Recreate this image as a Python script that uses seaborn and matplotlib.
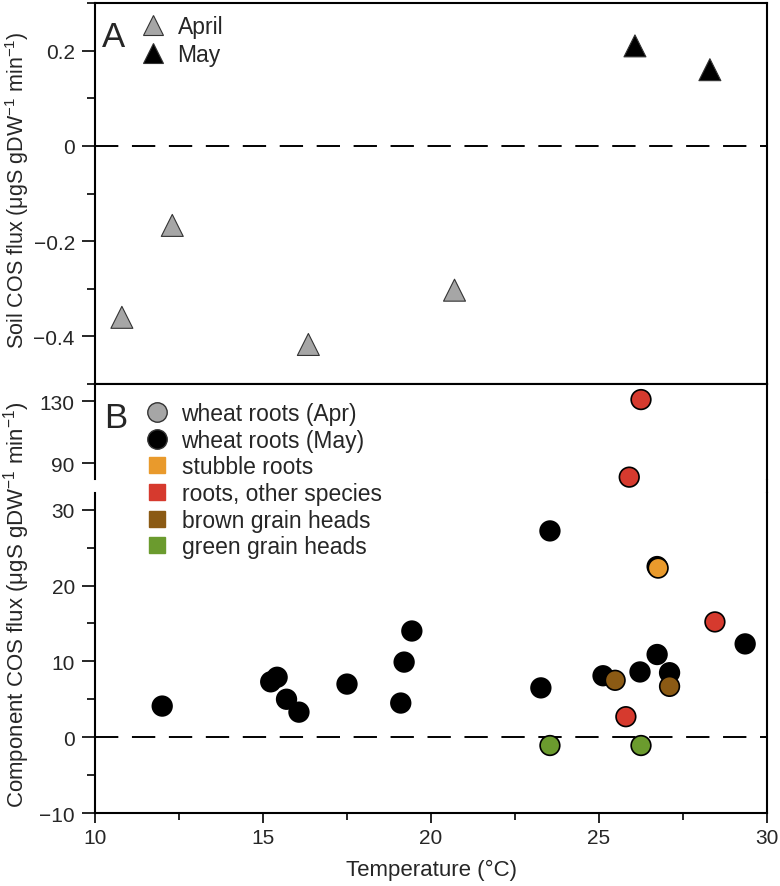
import numpy as np
import pandas as pd
import matplotlib
matplotlib.use("Agg")
import matplotlib.pyplot as plt
import seaborn as sns
from matplotlib.lines import Line2D
from matplotlib.ticker import MultipleLocator

# panel A: soil COS flux
soil_month = ["April", "April", "April", "April", "May", "May"]
soil_temp = [10.8, 12.3, 16.35, 20.7, 26.07, 28.3]
soil_flux = [-0.36, -0.167, -0.417, -0.303, 0.21, 0.16]

# panel B: component COS flux
may_temp = [12.0, 15.23, 15.42, 15.7, 16.07, 17.5, 19.1, 19.2, 19.43, 23.27,
            23.54, 25.12, 26.22, 26.73, 27.1, 29.35, 26.73]
may_flux = [4.1, 7.3, 7.9, 5.0, 3.3, 7.0, 4.5, 9.9, 14.0, 6.5,
            27.2, 8.1, 8.6, 10.9, 8.5, 12.3, 22.5]
stubble_temp = [26.76]
stubble_flux = [22.3]
other_temp = [25.8, 28.45, 26.25, 25.9]
other_flux = [2.7, 15.2, 131.0, 81.2]
brown_temp = [25.48, 27.1]
brown_flux = [7.5, 6.7]
green_temp = [23.54, 26.25]
green_flux = [-1.1, -1.1]

groups = ["wheat roots (Apr)", "wheat roots (May)", "stubble roots",
          "roots, other species", "brown grain heads", "green grain heads"]
colors = ["#a6a6a6", "#000000", "#e99a2c", "#d63a2e", "#8b5a14", "#6b9b2e"]

soil = pd.DataFrame({"month": soil_month, "temp": soil_temp, "flux": soil_flux})
comp = pd.concat([
    pd.DataFrame({"group": groups[1], "temp": may_temp, "flux": may_flux}),
    pd.DataFrame({"group": groups[2], "temp": stubble_temp, "flux": stubble_flux}),
    pd.DataFrame({"group": groups[3], "temp": other_temp, "flux": other_flux}),
    pd.DataFrame({"group": groups[4], "temp": brown_temp, "flux": brown_flux}),
    pd.DataFrame({"group": groups[5], "temp": green_temp, "flux": green_flux}),
], ignore_index=True)
pal = dict(zip(groups, colors))

sns.set_style("white")
plt.rcParams['font.family'] = ['Liberation Sans', 'DejaVu Sans']
plt.rcParams['mathtext.fontset'] = 'custom'
plt.rcParams['mathtext.rm'] = 'Liberation Sans'
plt.rcParams['mathtext.default'] = 'regular'

W, H = 780, 887
fig = plt.figure(figsize=(7.8, 8.87), dpi=100)
L, R = 95 / W, 767 / W


def box(top, bottom):
    return [L, 1 - bottom / H, R - L, (bottom - top) / H]


axA = fig.add_axes(box(4, 385))
axBu = fig.add_axes(box(385, 480))
axBl = fig.add_axes(box(494, 814))

for ax in (axA, axBu, axBl):
    for s in ax.spines.values():
        s.set_linewidth(1.5)
        s.set_color("black")
    ax.set_xlim(10, 30)
    ax.tick_params(axis="y", which="major", direction="out", length=9.5, width=1.4,
                   labelsize=15, pad=5, left=True)
    ax.tick_params(axis="y", which="minor", direction="out", length=5.5, width=1.4, left=True)
    ax.axhline(0, color="black", lw=1.4, ls=(0, (12, 7)), zorder=1)

# panel A
sns.scatterplot(data=soil, x="temp", y="flux", hue="month",
                palette={"April": "#a6a6a6", "May": "black"}, marker="^",
                s=250, edgecolor="#333333", linewidth=0.8, legend=False,
                ax=axA, zorder=3, clip_on=False)
axA.set_ylim(-0.5, 0.3)
axA.yaxis.set_minor_locator(MultipleLocator(0.1))
axA.set_yticks([-0.4, -0.2, 0, 0.2])
axA.set_yticklabels(["\u22120.4", "\u22120.2", "0", "0.2"])
axA.set_xticks([])
axA.set_xlabel("")
axA.set_ylabel("")
fig.text(17 / W, 1 - 190 / H, "Soil COS flux (\u03bcgS gDW$^{-1}$ min$^{-1}$)",
         rotation=90, fontsize=15.5, ha="center", va="center")
axA.text(0.01, 0.955, "A", transform=axA.transAxes, fontsize=25, va="top", ha="left")


def add_legend(handles, x_px, top_px, spacing):
    leg = fig.legend(handles=handles, loc="upper left",
                     bbox_to_anchor=(x_px / W, 1 - top_px / H),
                     frameon=False, fontsize=16.5, handlelength=1.0,
                     handletextpad=0.55, labelspacing=spacing,
                     borderpad=0, borderaxespad=0)
    return leg


legA = [Line2D([], [], ls="", marker="^", markersize=15, markerfacecolor=c,
               markeredgecolor="#333333", markeredgewidth=0.8, label=lab)
        for lab, c in [("April", "#a6a6a6"), ("May", "black")]]
add_legend(legA, 142, 16, 0.2)

# panel B
upper = comp[comp["flux"] >= 60]
lower = comp[comp["flux"] < 60]
for ax, d in ((axBu, upper), (axBl, lower)):
    sns.scatterplot(data=d, x="temp", y="flux", hue="group", palette=pal,
                    s=200, edgecolor="black", linewidth=1.2, legend=False,
                    ax=ax, zorder=3, clip_on=False)
    ax.set_xlabel("")
    ax.set_ylabel("")

axBu.set_ylim(80, 141)
axBu.set_yticks([90, 130])
axBu.set_xticks([])
axBu.spines["bottom"].set_visible(False)

axBl.set_ylim(-10, 32.2)
axBl.set_yticks([-10, 0, 10, 20, 30])
axBl.set_yticklabels(["\u221210", "0", "10", "20", "30"])
axBl.yaxis.set_minor_locator(MultipleLocator(5))
axBl.spines["top"].set_visible(False)
axBl.set_xticks([10, 15, 20, 25, 30])
axBl.xaxis.set_minor_locator(MultipleLocator(2.5))
axBl.tick_params(axis="x", which="major", direction="out", length=7, width=1.4,
                 labelsize=15, pad=4, bottom=True)
axBl.tick_params(axis="x", which="minor", direction="out", length=5, width=1.4, bottom=True)
axBl.set_xlabel("Temperature (\u00b0C)", fontsize=16, labelpad=8)

# right spine through the axis break
fig.add_artist(Line2D([R, R], [1 - 480 / H, 1 - 494 / H], color="black", lw=1.5))

axBu.text(0.013, 0.82, "B", transform=axBu.transAxes, fontsize=25, va="top", ha="left")
fig.text(17 / W, 1 - 605 / H, "Component COS flux (\u03bcgS gDW$^{-1}$ min$^{-1}$)",
         rotation=90, fontsize=16, ha="center", va="center")

legB = []
for lab, c in zip(groups, colors):
    if lab.startswith("wheat"):
        legB.append(Line2D([], [], ls="", marker="o", markersize=14,
                           markerfacecolor=c, markeredgecolor="#333333",
                           markeredgewidth=1.0, label=lab))
    else:
        legB.append(Line2D([], [], ls="", marker="s", markersize=12,
                           markerfacecolor=c, markeredgecolor=c, label=lab))
add_legend(legB, 146, 403, 0.16)

fig.savefig("out.png", dpi=100)
